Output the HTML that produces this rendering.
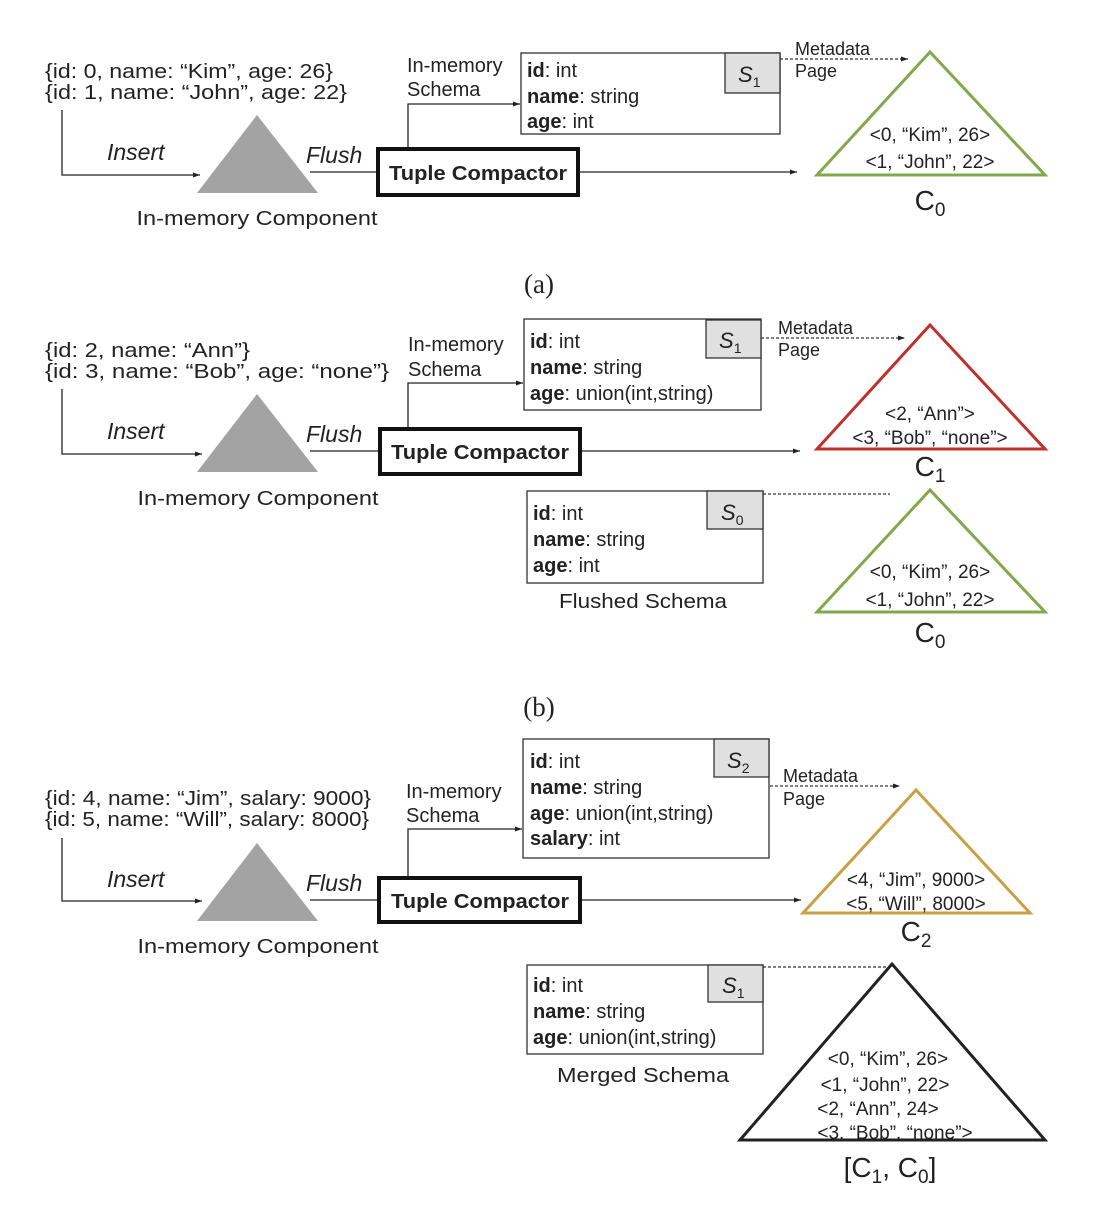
<!DOCTYPE html>
<html><head><meta charset="utf-8"><style>html,body{margin:0;padding:0;background:#fff}svg{display:block}text{font-family:"Liberation Sans",sans-serif;fill:#222}</style></head><body>
<svg width="1100" height="1208" viewBox="0 0 1100 1208" xmlns="http://www.w3.org/2000/svg">
<defs><marker id="ar" markerWidth="8" markerHeight="8" refX="7" refY="4" orient="auto" markerUnits="userSpaceOnUse"><path d="M0,1.5 L7,4 L0,6.5z" fill="#222"/></marker></defs>
<g font-size="20">
<!-- Panel a -->
<text x="45" y="78" textLength="288" lengthAdjust="spacingAndGlyphs">{id: 0, name: “Kim”, age: 26}</text>
<text x="45" y="99" textLength="302" lengthAdjust="spacingAndGlyphs">{id: 1, name: “John”, age: 22}</text>
<polyline points="62,110 62,175 200,175" fill="none" stroke="#222" stroke-width="1.3" marker-end="url(#ar)"/>
<text x="107" y="160" font-style="italic" font-size="23">Insert</text>
<polygon points="257,115 197,193 318,193" fill="#a3a3a3"/>
<text x="306" y="163" font-style="italic" font-size="23">Flush</text>
<line x1="310" y1="172" x2="376" y2="172" stroke="#222" stroke-width="1.3"/>
<rect x="378" y="149" width="200" height="46" fill="#fff" stroke="#111" stroke-width="4"/>
<text x="478" y="180" font-weight="bold" text-anchor="middle" textLength="178" lengthAdjust="spacingAndGlyphs">Tuple Compactor</text>
<polyline points="408,147 408,104 520,104" fill="none" stroke="#222" stroke-width="1.3" marker-end="url(#ar)"/>
<text x="407" y="72">In-memory</text><text x="407" y="96">Schema</text>
<rect x="521" y="53" width="259" height="81" fill="#fff" stroke="#333" stroke-width="1.3"/>
<rect x="725" y="53" width="55" height="40" fill="#e0e0e0" stroke="#333" stroke-width="1.3"/>
<text x="738" y="82" font-size="22" font-style="italic">S<tspan font-size="14" dy="5" font-style="normal">1</tspan></text>
<text x="527" y="77"><tspan font-weight="bold">id</tspan>: int</text>
<text x="527" y="103"><tspan font-weight="bold">name</tspan>: string</text>
<text x="527" y="128"><tspan font-weight="bold">age</tspan>: int</text>
<line x1="780" y1="59" x2="908" y2="59" stroke="#333" stroke-width="1.3" stroke-dasharray="3,2" marker-end="url(#ar)"/>
<text x="795" y="55" font-size="18">Metadata</text><text x="795" y="77" font-size="18">Page</text>
<polygon points="930,52 817,175 1045,175" fill="none" stroke="#82a84c" stroke-width="3"/>
<text x="930" y="141" text-anchor="middle" font-size="19">&lt;0, “Kim”, 26&gt;</text>
<text x="930" y="168" text-anchor="middle" font-size="19">&lt;1, “John”, 22&gt;</text>
<text x="930" y="210" text-anchor="middle" font-size="28">C<tspan font-size="19" dy="6">0</tspan></text>
<line x1="579" y1="172" x2="797" y2="172" stroke="#222" stroke-width="1.3" marker-end="url(#ar)"/>
<text x="257" y="225" text-anchor="middle" textLength="241" lengthAdjust="spacingAndGlyphs">In-memory Component</text>
<text x="539" y="293" text-anchor="middle" style="font-family:'Liberation Serif',serif" font-size="27">(a)</text>

<!-- Panel b -->
<text x="45" y="357" textLength="205" lengthAdjust="spacingAndGlyphs">{id: 2, name: “Ann”}</text>
<text x="45" y="378" textLength="344" lengthAdjust="spacingAndGlyphs">{id: 3, name: “Bob”, age: “none”}</text>
<polyline points="62,389 62,454 202,454" fill="none" stroke="#222" stroke-width="1.3" marker-end="url(#ar)"/>
<text x="107" y="439" font-style="italic" font-size="23">Insert</text>
<polygon points="257,394 197,472 318,472" fill="#a3a3a3"/>
<text x="306" y="442" font-style="italic" font-size="23">Flush</text>
<line x1="310" y1="451" x2="378" y2="451" stroke="#222" stroke-width="1.3"/>
<rect x="380" y="429" width="200" height="45" fill="#fff" stroke="#111" stroke-width="4"/>
<text x="480" y="459" font-weight="bold" text-anchor="middle" textLength="178" lengthAdjust="spacingAndGlyphs">Tuple Compactor</text>
<polyline points="408,427 408,383 523,383" fill="none" stroke="#222" stroke-width="1.3" marker-end="url(#ar)"/>
<text x="408" y="351">In-memory</text><text x="408" y="376">Schema</text>
<rect x="524" y="319" width="237" height="91" fill="#fff" stroke="#333" stroke-width="1.3"/>
<rect x="706" y="320" width="55" height="38" fill="#e0e0e0" stroke="#333" stroke-width="1.3"/>
<text x="719" y="348" font-size="22" font-style="italic">S<tspan font-size="14" dy="5" font-style="normal">1</tspan></text>
<text x="530" y="348"><tspan font-weight="bold">id</tspan>: int</text>
<text x="530" y="374"><tspan font-weight="bold">name</tspan>: string</text>
<text x="530" y="400"><tspan font-weight="bold">age</tspan>: union(int,string)</text>
<line x1="761" y1="338" x2="905" y2="338" stroke="#333" stroke-width="1.3" stroke-dasharray="3,2" marker-end="url(#ar)"/>
<text x="778" y="334" font-size="18">Metadata</text><text x="778" y="356" font-size="18">Page</text>
<polygon points="930,325 817,449 1045,449" fill="none" stroke="#c0302c" stroke-width="3"/>
<text x="930" y="420" text-anchor="middle" font-size="19">&lt;2, “Ann”&gt;</text>
<text x="930" y="444" text-anchor="middle" font-size="19">&lt;3, “Bob”, “none”&gt;</text>
<text x="930" y="476" text-anchor="middle" font-size="28">C<tspan font-size="19" dy="6">1</tspan></text>
<line x1="582" y1="451" x2="800" y2="451" stroke="#222" stroke-width="1.3" marker-end="url(#ar)"/>
<text x="258" y="505" text-anchor="middle" textLength="241" lengthAdjust="spacingAndGlyphs">In-memory Component</text>
<rect x="527" y="491" width="236" height="92" fill="#fff" stroke="#333" stroke-width="1.3"/>
<rect x="707" y="491" width="56" height="38" fill="#e0e0e0" stroke="#333" stroke-width="1.3"/>
<text x="721" y="520" font-size="22" font-style="italic">S<tspan font-size="14" dy="5" font-style="normal">0</tspan></text>
<text x="533" y="520"><tspan font-weight="bold">id</tspan>: int</text>
<text x="533" y="546"><tspan font-weight="bold">name</tspan>: string</text>
<text x="533" y="572"><tspan font-weight="bold">age</tspan>: int</text>
<text x="643" y="608" text-anchor="middle" textLength="168" lengthAdjust="spacingAndGlyphs">Flushed Schema</text>
<line x1="763" y1="494" x2="890" y2="494" stroke="#333" stroke-width="1.3" stroke-dasharray="3,2"/>
<polygon points="930,490 817,612 1045,612" fill="none" stroke="#82a84c" stroke-width="3"/>
<text x="930" y="578" text-anchor="middle" font-size="19">&lt;0, “Kim”, 26&gt;</text>
<text x="930" y="606" text-anchor="middle" font-size="19">&lt;1, “John”, 22&gt;</text>
<text x="930" y="642" text-anchor="middle" font-size="28">C<tspan font-size="19" dy="6">0</tspan></text>
<text x="539" y="716" text-anchor="middle" style="font-family:'Liberation Serif',serif" font-size="27">(b)</text>

<!-- Panel c -->
<text x="45" y="805" textLength="326" lengthAdjust="spacingAndGlyphs">{id: 4, name: “Jim”, salary: 9000}</text>
<text x="45" y="826" textLength="324" lengthAdjust="spacingAndGlyphs">{id: 5, name: “Will”, salary: 8000}</text>
<polyline points="62,838 62,901 202,901" fill="none" stroke="#222" stroke-width="1.3" marker-end="url(#ar)"/>
<text x="107" y="887" font-style="italic" font-size="23">Insert</text>
<polygon points="257,843 197,921 318,921" fill="#a3a3a3"/>
<text x="306" y="891" font-style="italic" font-size="23">Flush</text>
<line x1="310" y1="900" x2="377" y2="900" stroke="#222" stroke-width="1.3"/>
<rect x="379" y="878" width="201" height="44" fill="#fff" stroke="#111" stroke-width="4"/>
<text x="480" y="908" font-weight="bold" text-anchor="middle" textLength="178" lengthAdjust="spacingAndGlyphs">Tuple Compactor</text>
<polyline points="408,876 408,829 522,829" fill="none" stroke="#222" stroke-width="1.3" marker-end="url(#ar)"/>
<text x="406" y="798">In-memory</text><text x="406" y="822">Schema</text>
<rect x="523" y="739" width="246" height="119" fill="#fff" stroke="#333" stroke-width="1.3"/>
<rect x="714" y="739" width="55" height="38" fill="#e0e0e0" stroke="#333" stroke-width="1.3"/>
<text x="727" y="768" font-size="22" font-style="italic">S<tspan font-size="14" dy="5" font-style="normal">2</tspan></text>
<text x="530" y="768"><tspan font-weight="bold">id</tspan>: int</text>
<text x="530" y="794"><tspan font-weight="bold">name</tspan>: string</text>
<text x="530" y="820"><tspan font-weight="bold">age</tspan>: union(int,string)</text>
<text x="530" y="845"><tspan font-weight="bold">salary</tspan>: int</text>
<line x1="770" y1="786" x2="900" y2="786" stroke="#333" stroke-width="1.3" stroke-dasharray="3,2" marker-end="url(#ar)"/>
<text x="783" y="782" font-size="18">Metadata</text><text x="783" y="805" font-size="18">Page</text>
<polygon points="916,790 803,913 1030,913" fill="none" stroke="#c9a043" stroke-width="3"/>
<text x="916" y="886" text-anchor="middle" font-size="19">&lt;4, “Jim”, 9000&gt;</text>
<text x="916" y="910" text-anchor="middle" font-size="19">&lt;5, “Will”, 8000&gt;</text>
<text x="916" y="941" text-anchor="middle" font-size="28">C<tspan font-size="19" dy="6">2</tspan></text>
<line x1="582" y1="900" x2="801" y2="900" stroke="#222" stroke-width="1.3" marker-end="url(#ar)"/>
<text x="258" y="953" text-anchor="middle" textLength="241" lengthAdjust="spacingAndGlyphs">In-memory Component</text>
<rect x="527" y="965" width="236" height="89" fill="#fff" stroke="#333" stroke-width="1.3"/>
<rect x="708" y="965" width="55" height="37" fill="#e0e0e0" stroke="#333" stroke-width="1.3"/>
<text x="722" y="993" font-size="22" font-style="italic">S<tspan font-size="14" dy="5" font-style="normal">1</tspan></text>
<text x="533" y="992"><tspan font-weight="bold">id</tspan>: int</text>
<text x="533" y="1018"><tspan font-weight="bold">name</tspan>: string</text>
<text x="533" y="1044"><tspan font-weight="bold">age</tspan>: union(int,string)</text>
<text x="643" y="1082" text-anchor="middle" textLength="172" lengthAdjust="spacingAndGlyphs">Merged Schema</text>
<line x1="763" y1="967" x2="890" y2="967" stroke="#333" stroke-width="1.3" stroke-dasharray="3,2"/>
<polygon points="892,964 740,1140 1045,1140" fill="none" stroke="#222" stroke-width="3"/>
<text x="888" y="1065" text-anchor="middle" font-size="19">&lt;0, “Kim”, 26&gt;</text>
<text x="885" y="1091" text-anchor="middle" font-size="19">&lt;1, “John”, 22&gt;</text>
<text x="878" y="1115" text-anchor="middle" font-size="19">&lt;2, “Ann”, 24&gt;</text>
<text x="895" y="1139" text-anchor="middle" font-size="19">&lt;3, “Bob”, “none”&gt;</text>
<text x="890" y="1177" text-anchor="middle" font-size="28">[C<tspan font-size="19" dy="6">1</tspan><tspan dy="-6">, C</tspan><tspan font-size="19" dy="6">0</tspan><tspan dy="-6">]</tspan></text>
</g>
</svg>
</body></html>
